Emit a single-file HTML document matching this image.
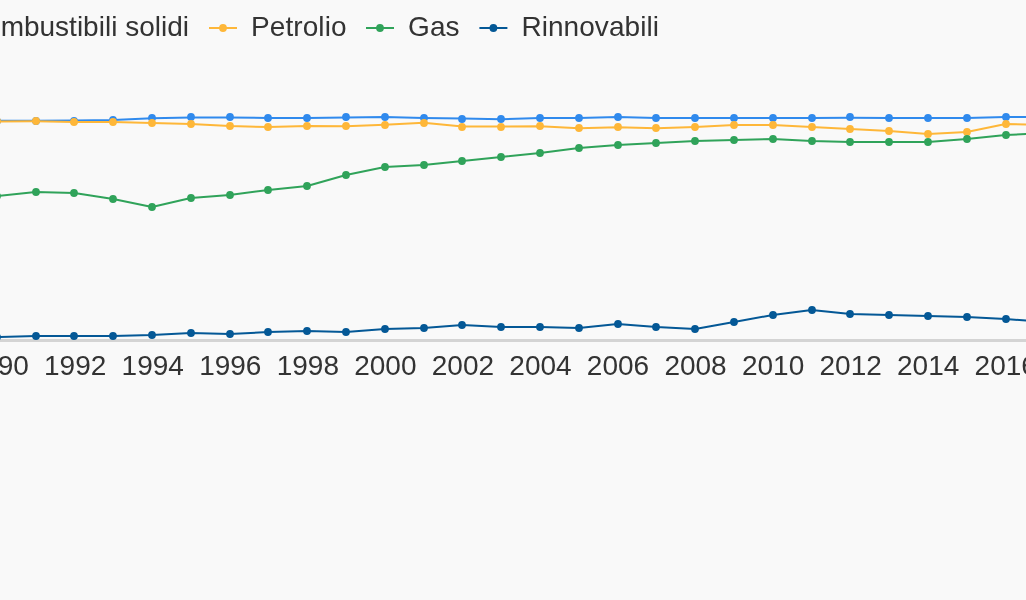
<!DOCTYPE html>
<html lang="it"><head><meta charset="utf-8"><title>Chart</title>
<style>
html,body{margin:0;padding:0;background:#f9f9f9;overflow:hidden}
svg{display:block}
text{font-family:"Liberation Sans",Arial,sans-serif;font-size:28px;fill:#333}
</style></head><body>
<svg width="1026" height="600" viewBox="0 0 1026 600">
<rect width="1026" height="600" fill="#f9f9f9"/>
<rect x="0" y="339" width="1026" height="3" fill="#d4d4d4"/>
<polyline points="-3.2,120.85 35.6,120.75 74.4,120.60 113.2,120.00 152.0,118.20 190.8,117.50 229.6,117.50 268.4,118.00 307.2,118.00 346.0,117.60 384.8,117.10 423.6,118.00 462.4,118.50 501.2,119.20 540.0,118.00 578.8,118.00 617.6,117.00 656.4,118.00 695.2,118.00 734.0,118.00 772.8,118.00 811.6,118.00 850.4,117.80 889.2,118.00 928.0,118.00 966.8,118.00 1005.6,117.10 1044.4,117.10" fill="none" stroke="#308aed" stroke-width="2" stroke-linejoin="round"/>
<g fill="#308aed"><circle cx="-3" cy="121.0" r="3.9"/><circle cx="36" cy="121.0" r="3.9"/><circle cx="74" cy="121.0" r="3.9"/><circle cx="113" cy="120.0" r="3.9"/><circle cx="152" cy="118.0" r="3.9"/><circle cx="191" cy="117.0" r="3.9"/><circle cx="230" cy="117.0" r="3.9"/><circle cx="268" cy="118.0" r="3.9"/><circle cx="307" cy="118.0" r="3.9"/><circle cx="346" cy="117.0" r="3.9"/><circle cx="385" cy="117.0" r="3.9"/><circle cx="424" cy="118.0" r="3.9"/><circle cx="462" cy="119.0" r="3.9"/><circle cx="501" cy="119.0" r="3.9"/><circle cx="540" cy="118.0" r="3.9"/><circle cx="579" cy="118.0" r="3.9"/><circle cx="618" cy="117.0" r="3.9"/><circle cx="656" cy="118.0" r="3.9"/><circle cx="695" cy="118.0" r="3.9"/><circle cx="734" cy="118.0" r="3.9"/><circle cx="773" cy="118.0" r="3.9"/><circle cx="812" cy="118.0" r="3.9"/><circle cx="850" cy="117.0" r="3.9"/><circle cx="889" cy="118.0" r="3.9"/><circle cx="928" cy="118.0" r="3.9"/><circle cx="967" cy="118.0" r="3.9"/><circle cx="1006" cy="117.0" r="3.9"/><circle cx="1044" cy="117.5" r="3.9"/></g>
<polyline points="-3.2,121.40 35.6,121.30 74.4,122.00 113.2,121.90 152.0,123.00 190.8,124.00 229.6,126.00 268.4,127.00 307.2,125.90 346.0,126.30 384.8,124.70 423.6,122.80 462.4,126.50 501.2,126.60 540.0,126.30 578.8,128.20 617.6,127.30 656.4,128.20 695.2,126.90 734.0,125.00 772.8,125.00 811.6,127.00 850.4,129.00 889.2,131.00 928.0,134.00 966.8,132.00 1005.6,124.00 1044.4,125.00" fill="none" stroke="#feb739" stroke-width="2" stroke-linejoin="round"/>
<g fill="#feb739"><circle cx="-3" cy="121.0" r="3.9"/><circle cx="36" cy="121.0" r="3.9"/><circle cx="74" cy="122.0" r="3.9"/><circle cx="113" cy="122.0" r="3.9"/><circle cx="152" cy="123.0" r="3.9"/><circle cx="191" cy="124.0" r="3.9"/><circle cx="230" cy="126.0" r="3.9"/><circle cx="268" cy="127.0" r="3.9"/><circle cx="307" cy="126.0" r="3.9"/><circle cx="346" cy="126.0" r="3.9"/><circle cx="385" cy="125.0" r="3.9"/><circle cx="424" cy="123.0" r="3.9"/><circle cx="462" cy="127.0" r="3.9"/><circle cx="501" cy="127.0" r="3.9"/><circle cx="540" cy="126.0" r="3.9"/><circle cx="579" cy="128.0" r="3.9"/><circle cx="618" cy="127.0" r="3.9"/><circle cx="656" cy="128.0" r="3.9"/><circle cx="695" cy="127.0" r="3.9"/><circle cx="734" cy="125.0" r="3.9"/><circle cx="773" cy="125.0" r="3.9"/><circle cx="812" cy="127.0" r="3.9"/><circle cx="850" cy="129.0" r="3.9"/><circle cx="889" cy="131.0" r="3.9"/><circle cx="928" cy="134.0" r="3.9"/><circle cx="967" cy="132.0" r="3.9"/><circle cx="1006" cy="124.0" r="3.9"/><circle cx="1044" cy="125.3" r="3.9"/></g>
<polyline points="-3.2,196.00 35.6,192.00 74.4,193.00 113.2,199.00 152.0,207.00 190.8,198.00 229.6,195.00 268.4,190.00 307.2,186.00 346.0,175.00 384.8,167.00 423.6,165.00 462.4,161.00 501.2,157.00 540.0,153.00 578.8,148.00 617.6,145.00 656.4,143.00 695.2,141.00 734.0,140.00 772.8,139.00 811.6,141.00 850.4,142.00 889.2,142.00 928.0,142.00 966.8,139.00 1005.6,135.00 1044.4,133.20" fill="none" stroke="#30a35a" stroke-width="2" stroke-linejoin="round"/>
<g fill="#30a35a"><circle cx="-3" cy="196.0" r="3.9"/><circle cx="36" cy="192.0" r="3.9"/><circle cx="74" cy="193.0" r="3.9"/><circle cx="113" cy="199.0" r="3.9"/><circle cx="152" cy="207.0" r="3.9"/><circle cx="191" cy="198.0" r="3.9"/><circle cx="230" cy="195.0" r="3.9"/><circle cx="268" cy="190.0" r="3.9"/><circle cx="307" cy="186.0" r="3.9"/><circle cx="346" cy="175.0" r="3.9"/><circle cx="385" cy="167.0" r="3.9"/><circle cx="424" cy="165.0" r="3.9"/><circle cx="462" cy="161.0" r="3.9"/><circle cx="501" cy="157.0" r="3.9"/><circle cx="540" cy="153.0" r="3.9"/><circle cx="579" cy="148.0" r="3.9"/><circle cx="618" cy="145.0" r="3.9"/><circle cx="656" cy="143.0" r="3.9"/><circle cx="695" cy="141.0" r="3.9"/><circle cx="734" cy="140.0" r="3.9"/><circle cx="773" cy="139.0" r="3.9"/><circle cx="812" cy="141.0" r="3.9"/><circle cx="850" cy="142.0" r="3.9"/><circle cx="889" cy="142.0" r="3.9"/><circle cx="928" cy="142.0" r="3.9"/><circle cx="967" cy="139.0" r="3.9"/><circle cx="1006" cy="135.0" r="3.9"/><circle cx="1044" cy="132.0" r="3.9"/></g>
<polyline points="-3.2,337.00 35.6,336.00 74.4,336.00 113.2,336.00 152.0,335.00 190.8,333.00 229.6,334.00 268.4,332.00 307.2,331.00 346.0,332.00 384.8,329.00 423.6,328.00 462.4,325.00 501.2,327.00 540.0,327.00 578.8,328.00 617.6,324.00 656.4,327.00 695.2,329.00 734.0,322.00 772.8,315.00 811.6,310.00 850.4,314.00 889.2,315.00 928.0,316.00 966.8,317.00 1005.6,319.00 1044.4,322.00" fill="none" stroke="#045896" stroke-width="2" stroke-linejoin="round"/>
<g fill="#045896"><circle cx="-3" cy="337.0" r="3.9"/><circle cx="36" cy="336.0" r="3.9"/><circle cx="74" cy="336.0" r="3.9"/><circle cx="113" cy="336.0" r="3.9"/><circle cx="152" cy="335.0" r="3.9"/><circle cx="191" cy="333.0" r="3.9"/><circle cx="230" cy="334.0" r="3.9"/><circle cx="268" cy="332.0" r="3.9"/><circle cx="307" cy="331.0" r="3.9"/><circle cx="346" cy="332.0" r="3.9"/><circle cx="385" cy="329.0" r="3.9"/><circle cx="424" cy="328.0" r="3.9"/><circle cx="462" cy="325.0" r="3.9"/><circle cx="501" cy="327.0" r="3.9"/><circle cx="540" cy="327.0" r="3.9"/><circle cx="579" cy="328.0" r="3.9"/><circle cx="618" cy="324.0" r="3.9"/><circle cx="656" cy="327.0" r="3.9"/><circle cx="695" cy="329.0" r="3.9"/><circle cx="734" cy="322.0" r="3.9"/><circle cx="773" cy="315.0" r="3.9"/><circle cx="812" cy="310.0" r="3.9"/><circle cx="850" cy="314.0" r="3.9"/><circle cx="889" cy="315.0" r="3.9"/><circle cx="928" cy="316.0" r="3.9"/><circle cx="967" cy="317.0" r="3.9"/><circle cx="1006" cy="319.0" r="3.9"/><circle cx="1044" cy="322.0" r="3.9"/></g>
<g><text x="-2.35" y="375" text-anchor="middle">1990</text><text x="75.20" y="375" text-anchor="middle">1992</text><text x="152.75" y="375" text-anchor="middle">1994</text><text x="230.29" y="375" text-anchor="middle">1996</text><text x="307.84" y="375" text-anchor="middle">1998</text><text x="385.38" y="375" text-anchor="middle">2000</text><text x="462.93" y="375" text-anchor="middle">2002</text><text x="540.48" y="375" text-anchor="middle">2004</text><text x="618.02" y="375" text-anchor="middle">2006</text><text x="695.57" y="375" text-anchor="middle">2008</text><text x="773.11" y="375" text-anchor="middle">2010</text><text x="850.66" y="375" text-anchor="middle">2012</text><text x="928.21" y="375" text-anchor="middle">2014</text><text x="1005.75" y="375" text-anchor="middle">2016</text></g>
<g><text x="188.95" y="36" text-anchor="end">Combustibili solidi</text><line x1="209" y1="28" x2="237" y2="28" stroke="#feb739" stroke-width="2"/><circle cx="223" cy="28" r="3.9" fill="#feb739"/><text x="251" y="36" style="letter-spacing:0.09px">Petrolio</text><line x1="366" y1="28" x2="394" y2="28" stroke="#30a35a" stroke-width="2"/><circle cx="380" cy="28" r="3.9" fill="#30a35a"/><text x="408" y="36" style="letter-spacing:0.1px">Gas</text><line x1="479.4" y1="28" x2="507.4" y2="28" stroke="#045896" stroke-width="2"/><circle cx="493.4" cy="28" r="3.9" fill="#045896"/><text x="521.4" y="36" style="letter-spacing:0.06px">Rinnovabili</text></g>
</svg>
</body></html>
